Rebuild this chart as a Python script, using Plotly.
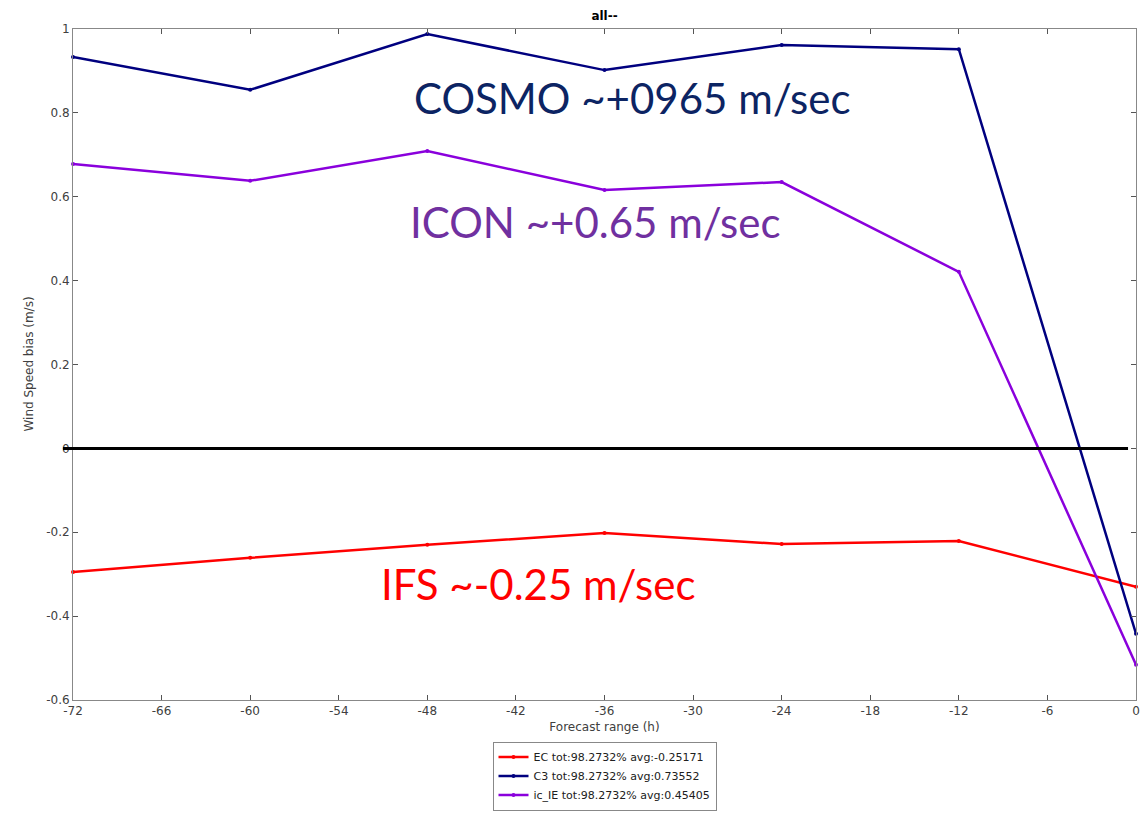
import plotly.graph_objects as go

hours = [-72, -60, -48, -36, -24, -12, 0]
ec_bias = [-0.295, -0.261, -0.230, -0.202, -0.228, -0.221, -0.330]
c3_bias = [0.933, 0.855, 0.988, 0.902, 0.962, 0.952, -0.442]
ic_bias = [0.678, 0.638, 0.709, 0.616, 0.635, 0.421, -0.516]

series_names = [
    "EC tot:98.2732% avg:-0.25171",
    "C3 tot:98.2732% avg:0.73552",
    "ic_IE tot:98.2732% avg:0.45405",
]
series_colors = ["#ff0000", "#00007f", "#8a00dc"]

x_ticks = [-72, -66, -60, -54, -48, -42, -36, -30, -24, -18, -12, -6, 0]
y_ticks = [-0.6, -0.4, -0.2, 0, 0.2, 0.4, 0.6, 0.8, 1]
y_tick_text = ["-0.6", "-0.4", "-0.2", "0", "0.2", "0.4", "0.6", "0.8", "1"]

fig = go.Figure()
for name, vals, col in zip(series_names, [ec_bias, c3_bias, ic_bias], series_colors):
    fig.add_trace(go.Scatter(
        x=hours, y=vals, name=name, mode="lines+markers",
        line=dict(color=col, width=2.5),
        marker=dict(color=col, size=4),
        cliponaxis=False,
    ))

axis_common = dict(
    showgrid=False, zeroline=False, showline=True, linecolor="#888888", linewidth=1,
    mirror="allticks", ticks="inside", ticklen=5, tickcolor="#555555",
    tickfont=dict(family="DejaVu Sans", size=12, color="#404040"),
)

fig.update_xaxes(
    range=[-72, 0], tickvals=x_ticks, ticktext=[str(v) for v in x_ticks],
    title=dict(text="Forecast range (h)", standoff=5,
               font=dict(family="DejaVu Sans", size=12, color="#404040")),
    **axis_common,
)
fig.update_yaxes(
    range=[-0.6, 1], tickvals=y_ticks, ticktext=y_tick_text,
    **axis_common,
)

# zero reference line
fig.add_shape(type="line", xref="paper", yref="y", x0=-0.0094, x1=0.9925, y0=0, y1=0,
              line=dict(color="black", width=3))

fig.add_annotation(text="Wind Speed bias (m/s)", xref="paper", yref="paper",
                   x=-0.0423, y=0.5, xanchor="center", textangle=-90, showarrow=False,
                   font=dict(family="DejaVu Sans", size=12, color="#404040"))

big_font = "Lato"
fig.add_annotation(text="COSMO ~+0965 m/sec", x=-34.1, y=0.835, showarrow=False,
                   font=dict(family=big_font, size=42, color="#0c2463"))
fig.add_annotation(text="ICON ~+0.65 m/sec", x=-36.6, y=0.54, showarrow=False,
                   font=dict(family=big_font, size=42, color="#7030a0"))
fig.add_annotation(text="IFS ~-0.25 m/sec", x=-40.5, y=-0.323, showarrow=False,
                   font=dict(family=big_font, size=42, color="#ff0000"))

fig.update_layout(
    width=1145, height=814,
    margin=dict(l=73, r=9, t=29, b=114, autoexpand=False),
    paper_bgcolor="white", plot_bgcolor="white",
    title=dict(text="<b>all--</b>", x=0.528, xanchor="center", y=0.98, yanchor="middle",
               font=dict(family="DejaVu Sans", size=12, color="black")),
    legend=dict(x=0.5, xanchor="center", y=-0.062, yanchor="top",
                bordercolor="#888888", borderwidth=1, bgcolor="white",
                font=dict(family="DejaVu Sans", size=11, color="#202020"),
                tracegroupgap=0, itemwidth=30),
    showlegend=True,
)

fig.write_html("out.html")
